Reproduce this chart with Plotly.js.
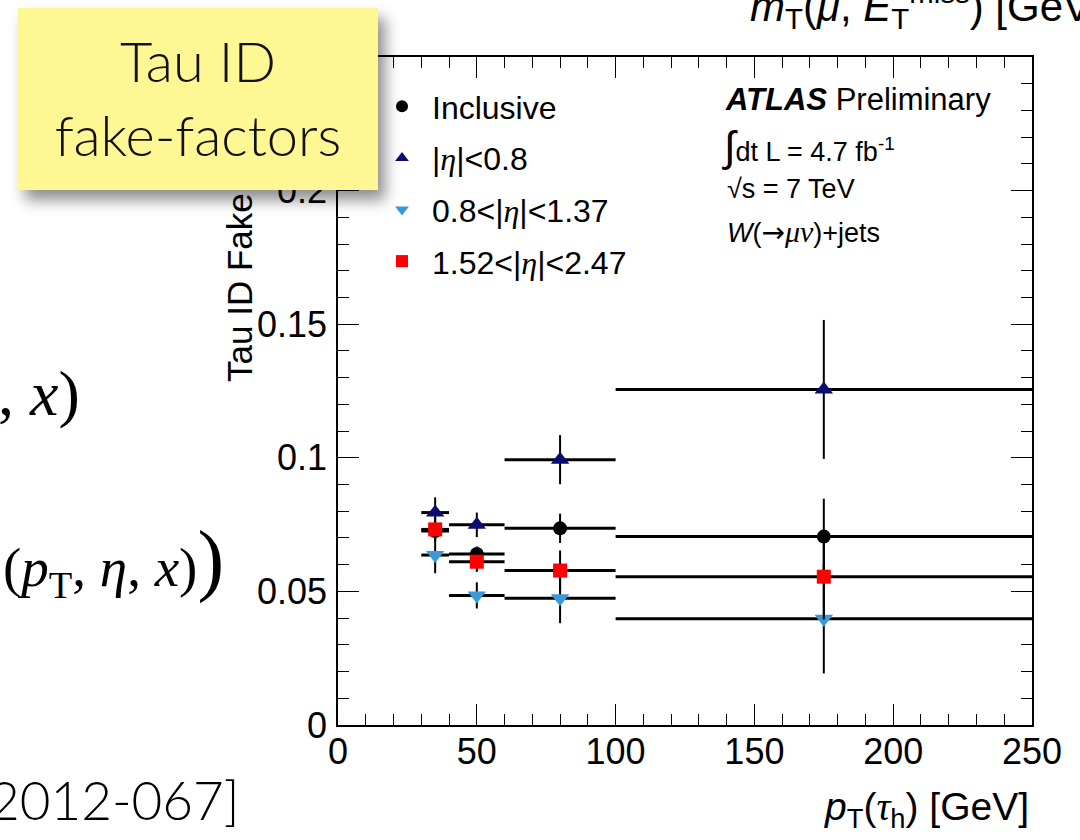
<!DOCTYPE html>
<html>
<head>
<meta charset="utf-8">
<script src="https://cdn.plot.ly/plotly-3.0.1.min.js"></script>
<style>
  html, body { margin: 0; padding: 0; background: #ffffff; }
  #wrap { position: relative; width: 1080px; height: 840px; overflow: hidden; }
  #chart { position: absolute; left: 0; top: 0; width: 1080px; height: 840px; }
  #note {
    position: absolute; left: 18px; top: 8px; width: 360px; height: 182px;
    background: #fef793;
    box-shadow: 7px 10px 14px rgba(0, 0, 0, 0.45);
    font-family: "Lato", "Noto Sans", sans-serif; font-weight: 300;
    font-size: 56px; line-height: 74px; color: #111111;
    text-align: center; box-sizing: border-box; padding-top: 16px;
  }
</style>
</head>
<body>
<div id="wrap">
  <div id="chart"></div>
  <div id="note">Tau ID<br>fake-factors</div>
</div>
<script>
// pT(tau_h) bins: centres and half-widths [GeV]
const binCentre = [35, 50, 80, 175];
const binHalfWidth = [5, 10, 20, 75];

// Fake factors per eta region, with statistical uncertainties
const inclusive = [0.0726, 0.0640, 0.0736, 0.0705];
const inclusiveErr = [0.0030, 0.0028, 0.0055, 0.0142];

const etaCentral = [0.0795, 0.0749, 0.0993, 0.1256];
const etaCentralErr = [0.0057, 0.0046, 0.0092, 0.0260];

const etaMid = [0.0636, 0.0485, 0.0474, 0.0398];
const etaMidErr = [0.0068, 0.0049, 0.0093, 0.0205];

const etaForward = [0.0732, 0.0611, 0.0578, 0.0555];
const etaForwardErr = [0.0045, 0.0038, 0.0075, 0.0160];

const seriesNames = [
  'Inclusive',
  '|<i style="font-family:Liberation Serif">η</i>|&lt;0.8',
  '0.8&lt;|<i style="font-family:Liberation Serif">η</i>|&lt;1.37',
  '1.52&lt;|<i style="font-family:Liberation Serif">η</i>|&lt;2.47'
];

const xTickVals = [0, 50, 100, 150, 200, 250];
const yTickVals = [0, 0.05, 0.1, 0.15, 0.2];
const yTickText = ['0', '0.05', '0.1', '0.15', '0.2'];

const W = 1080, H = 840;
const M = { l: 338, r: 48, t: 57, b: 115 };
const plotW = W - M.l - M.r, plotH = H - M.t - M.b;
// pixel position -> paper coordinate
const px = v => (v - M.l) / plotW;
const py = v => (H - M.b - v) / plotH;

function series(y, err, name, symbol, color, size) {
  return {
    type: 'scatter', mode: 'markers', x: binCentre, y: y, name: name,
    legendgroup: name,
    marker: { symbol: symbol, color: color, size: size, line: { width: 0 } },
    error_x: { type: 'data', array: binHalfWidth, symmetric: true, color: '#000000', thickness: 3, width: 0 },
    error_y: { type: 'data', array: err, symmetric: true, color: '#000000', thickness: 2, width: 0 },
    cliponaxis: false, hoverinfo: 'x+y'
  };
}

const traces = [
  series(inclusive, inclusiveErr, seriesNames[0], 'circle', '#000000', 14),
  series(etaCentral, etaCentralErr, seriesNames[1], 'triangle-up', '#0b0b72', 16),
  series(etaMid, etaMidErr, seriesNames[2], 'triangle-down', '#3a9ad8', 16),
  series(etaForward, etaForwardErr, seriesNames[3], 'square', '#ff0000', 14)
];

const helv = 'Liberation Sans, Arial, sans-serif';
const serif = 'Liberation Serif, Times New Roman, serif';

const axisCommon = {
  showline: true, linecolor: '#000000', linewidth: 1.5, mirror: 'allticks',
  ticks: 'inside', tickcolor: '#000000', tickwidth: 1.2, ticklen: 21,
  showgrid: false, zeroline: false, fixedrange: true,
  tickfont: { family: helv, size: 36, color: '#000000' }
};

const layout = {
  width: W, height: H,
  margin: M,
  paper_bgcolor: '#ffffff', plot_bgcolor: '#ffffff',
  showlegend: true,
  legend: {
    x: px(372), y: py(79), xanchor: 'left', yanchor: 'top',
    bgcolor: 'rgba(0,0,0,0)', borderwidth: 0,
    font: { family: helv, size: 32, color: '#000000' },
    tracegroupgap: 7, itemwidth: 50, itemsizing: 'constant',
    itemclick: false, itemdoubleclick: false
  },
  xaxis: Object.assign({}, axisCommon, {
    range: [0, 250], tickmode: 'array', tickvals: xTickVals,
    ticklabelstandoff: -6,
    minor: { ticks: 'inside', dtick: 10, tick0: 0, ticklen: 11, tickwidth: 1.2, tickcolor: '#000000', showgrid: false }
  }),
  yaxis: Object.assign({}, axisCommon, {
    range: [0, 0.25], tickmode: 'array', tickvals: yTickVals, ticktext: yTickText,
    ticklabelstandoff: 2,
    minor: { ticks: 'inside', dtick: 0.01, tick0: 0, ticklen: 11, tickwidth: 1.2, tickcolor: '#000000', showgrid: false }
  }),
  annotations: [
    // axis titles, ROOT style: right/top aligned
    { xref: 'paper', yref: 'paper', x: px(1031), y: py(836), xanchor: 'right', yanchor: 'bottom',
      showarrow: false, font: { family: helv, size: 39, color: '#000000' },
      text: '<i>p</i><sub>T</sub>(<i style="font-family:Liberation Serif">τ</i><sub>h</sub>) [GeV]' },
    { xref: 'paper', yref: 'paper', x: px(239), y: py(384), xanchor: 'center', yanchor: 'bottom',
      textangle: -90, showarrow: false, font: { family: helv, size: 35, color: '#000000' },
      text: 'Tau ID Fake Factor' },
    // experiment label
    { xref: 'paper', yref: 'paper', x: px(723), y: py(100), xanchor: 'left', yanchor: 'middle',
      showarrow: false, font: { family: helv, size: 31, color: '#000000' },
      text: '<b><i>ATLAS</i></b> Preliminary' },
    { xref: 'paper', yref: 'paper', x: px(720), y: py(146), xanchor: 'left', yanchor: 'middle',
      showarrow: false, font: { family: helv, size: 27, color: '#000000' },
      text: '<span style="font-size:42px">∫</span>dt L = 4.7 fb<sup>-1</sup>' },
    { xref: 'paper', yref: 'paper', x: px(725), y: py(189), xanchor: 'left', yanchor: 'middle',
      showarrow: false, font: { family: helv, size: 27, color: '#000000' },
      text: '√s = 7 TeV' },
    { xref: 'paper', yref: 'paper', x: px(725), y: py(232), xanchor: 'left', yanchor: 'middle',
      showarrow: false, font: { family: helv, size: 27, color: '#000000' },
      text: '<i>W</i>(<span style="font-family:DejaVu Sans;font-size:28px">→</span><i style="font-family:Liberation Serif;font-size:30px">μν</i>)+jets' },
    // neighbouring slide content
    { xref: 'paper', yref: 'paper', x: px(748), y: py(6), xanchor: 'left', yanchor: 'middle',
      showarrow: false, font: { family: helv, size: 42, color: '#000000' },
      text: '<i>m</i><sub>T</sub>(<i>μ</i>, <i>E</i><sub>T</sub><sup>miss</sup>) [GeV]' },
    { xref: 'paper', yref: 'paper', x: px(82), y: py(394), xanchor: 'right', yanchor: 'middle',
      showarrow: false, font: { family: serif, size: 64, color: '#000000' },
      text: ', <i>x</i>)' },
    { xref: 'paper', yref: 'paper', x: px(226), y: py(560), xanchor: 'right', yanchor: 'middle',
      showarrow: false, font: { family: serif, size: 55, color: '#000000' },
      text: '(<i>p</i><sub>T</sub>, <i>η</i>, <i>x</i>)<span style="font-size:80px">)</span>' },
    { xref: 'paper', yref: 'paper', x: px(242), y: py(800), xanchor: 'right', yanchor: 'middle',
      showarrow: false, font: { family: 'Lato, Noto Sans, sans-serif', size: 53, color: '#000000', weight: 300 },
      text: '2012-067]' }
  ]
};

Plotly.newPlot('chart', traces, layout, { displayModeBar: false, staticPlot: false });
</script>
</body>
</html>
